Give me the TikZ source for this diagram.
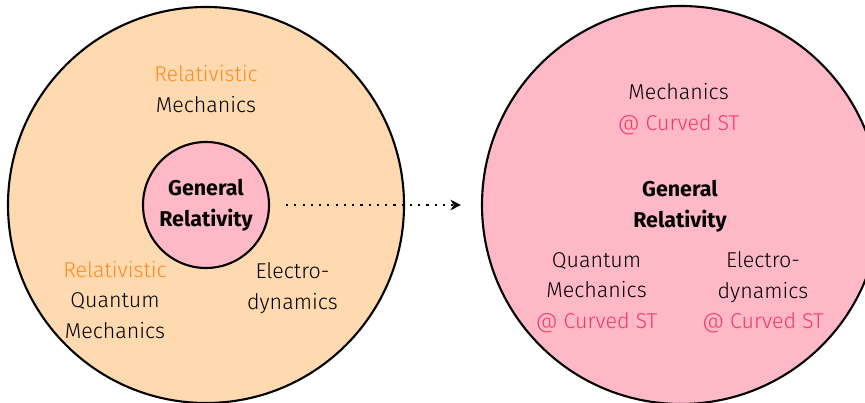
\documentclass[tikz,border=0pt]{standalone}
\usepackage{fontspec}
\setmainfont{Fira Sans Light}[BoldFont={Fira Sans Bold}]
\usetikzlibrary{arrows.meta}
\definecolor{peach}{HTML}{FFD9B0}
\definecolor{rosefill}{HTML}{FFB8C6}
\definecolor{relorange}{HTML}{FF8C1A}
\definecolor{curvedred}{HTML}{F23A64}

\begin{document}
\begin{tikzpicture}[x=2cm, y=2cm, line width=1.2pt,
  ball/.style={circle, draw=black, inner sep=0pt},
  lbl/.style={align=center, inner sep=0pt, font=\fontsize{12.2}{17.4}\selectfont},
  boldlbl/.style={lbl, font=\fontsize{12.2}{17.4}\selectfont\bfseries}]
  \useasboundingbox (0.000,0.000) rectangle (8.650,4.030);
  % the two worlds
  \node[ball, fill=peach, minimum size=7.92cm] (flat) at (2.060,1.980) {};
  \node[ball, fill=rosefill, minimum size=7.96cm] (curved) at (6.810,1.980) {};
  \node[ball, boldlbl, fill=rosefill, minimum size=2.52cm] (gr) at (2.060,1.980) {General\\Relativity};
  % left labels
  \node[lbl] (relmech) at (2.060,3.140) {\textcolor{relorange}{Relativistic}\\Mechanics};
  \node[lbl] (relqm) at (1.150,1.030) {\textcolor{relorange}{Relativistic}\\Quantum\\Mechanics};
  \node[lbl] (elec) at (2.925,1.145) {Electro-\\dynamics};
  % right labels
  \node[boldlbl] (grcurved) at (6.800,1.970) {General\\Relativity};
  \node[lbl] (mechcurved) at (6.785,2.940) {Mechanics\\\textcolor{curvedred}{@ Curved ST}};
  \node[lbl] (qmcurved) at (5.965,1.105) {Quantum\\Mechanics\\\textcolor{curvedred}{@ Curved ST}};
  \node[lbl] (eleccurved) at (7.630,1.105) {Electro-\\dynamics\\\textcolor{curvedred}{@ Curved ST}};
  \draw[dash pattern=on 1.2pt off 3.5pt, -{Stealth[length=6pt, width=6pt]},
        shorten <=0.32cm, shorten >=0.40cm] (gr) -- (curved);
\end{tikzpicture}
\end{document}
